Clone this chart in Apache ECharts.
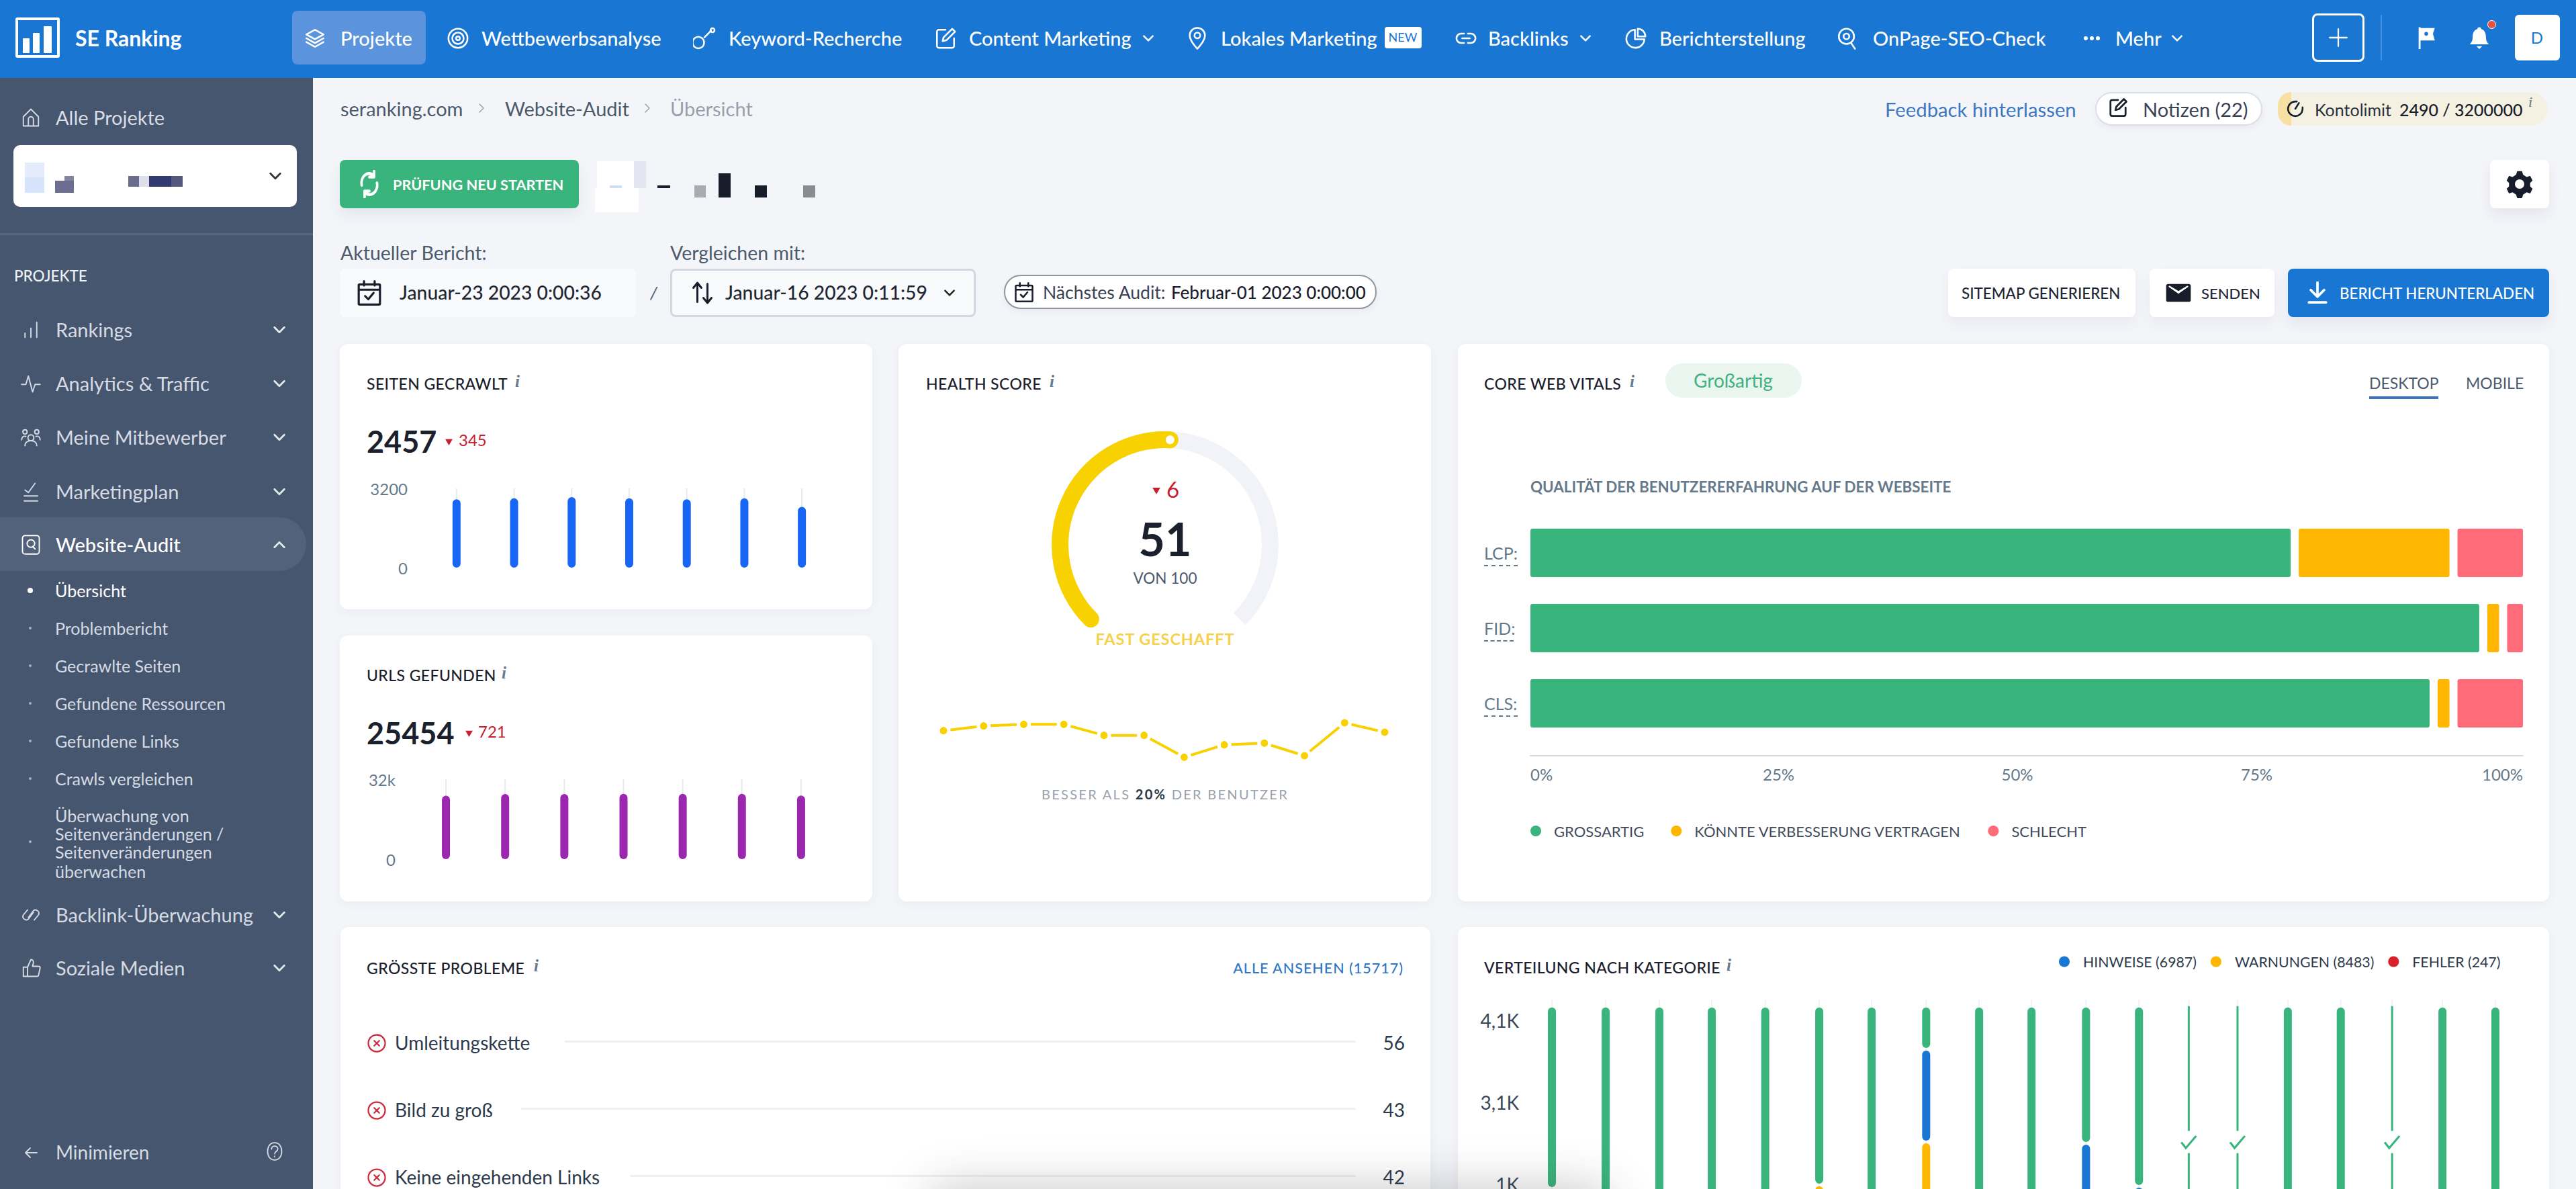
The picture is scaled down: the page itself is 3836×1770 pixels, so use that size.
<!DOCTYPE html>
<html lang="de">
<head>
<meta charset="utf-8">
<title>SE Ranking Website-Audit</title>
<script src="https://cdn.jsdelivr.net/npm/echarts@6/dist/echarts.min.js"></script>
<style>
  html, body { margin: 0; padding: 0; background: #f3f5f9; }
  #page { position: relative; width: 3836px; height: 1770px; overflow: hidden; background: #f3f5f9; font-family: Lato, sans-serif; }
  #page > div, #page > svg { position: absolute; white-space: nowrap; }
  #chart { position: absolute; left: 0; top: 0; width: 3836px; height: 1770px; z-index: 2; }
  .info { font-family: "Liberation Serif", serif; font-style: italic; font-weight: 700; color: #64798a; font-size: 25px; }
</style>
</head>
<body>
<div id="page"><div id="chart"></div></div>
<script>
// Werte
const weekLabels = ['1', '2', '3', '4', '5', '6', '7']
const pagesCrawled = [2760, 2802, 2850, 2802, 2760, 2802, 2457]
const urlsFound = [25400, 26100, 26100, 26175, 26175, 26175, 25454]
const healthScore = 51
const healthHistory = [52, 55, 56, 56, 49, 49, 35, 43, 44, 36, 57, 51]
const healthLabels = ['1', '2', '3', '4', '5', '6', '7', '8', '9', '10', '11', '12']

const cwvNames = ['LCP:', 'FID:', 'CLS:']
const cwvGood = [77, 96, 91]
const cwvMedium = [16, 2, 2]
const cwvBad = [7, 2, 7]
const cwvLegend = ['GROSSARTIG', 'KÖNNTE VERBESSERUNG VERTRAGEN', 'SCHLECHT']

// die Spalten stehen im Original nicht ganz gleichmäßig, daher Werteachse
const distSlots = [0.5, 1.525, 2.55, 3.55, 4.57, 5.6, 6.6, 7.64, 8.65, 9.65, 10.69, 11.7, 12.65, 13.58, 14.54, 15.55, 16.53, 17.49, 18.5]
const distPassed = [2223, 4270, 4270, 4270, 4270, 2182, 4270, 526, 4270, 4270, 1674, 2198, 0, 0, 4270, 4270, 0, 4270, 4270]
const distHints = [0, 0, 0, 0, 0, 0, 0, 1131, 0, 0, 2596, 2072, 0, 0, 0, 0, 0, 0, 0]
const distWarnings = [2047, 0, 0, 0, 0, 2088, 0, 2613, 0, 0, 0, 0, 0, 0, 0, 0, 0, 0, 0]
const distErrors = distSlots.map(() => 0)
const distThin = [null, null, null, null, null, null, null, null, null, null, null, null, 4270, 4270, null, null, 4270, null, null]
const distChecks = [12, 13, 16]
const distTickValues = [4100, 3100, 2100]
const distTickLabels = ['4,1K', '3,1K', '1K']
const distLegend = ['HINWEISE (6987)', 'WARNUNGEN (8483)', 'FEHLER (247)']

const problems = ['Umleitungskette', 'Bild zu groß', 'Keine eingehenden Links']
const problemCounts = [56, 43, 42]

const page = document.getElementById('page')

function box(x, y, w, h, bg, r, css) {
  const d = document.createElement('div')
  d.style.cssText = `left:${x}px;top:${y}px;width:${w}px;height:${h}px;background:${bg};border-radius:${r || 0}px;box-sizing:border-box;${css || ''}`
  page.appendChild(d)
  return d
}
// y ist die vertikale Mitte des Textes
function text(x, y, s, size, color, css) {
  const d = document.createElement('div')
  d.style.cssText = `left:${x}px;top:${y}px;transform:translateY(-50%);font-size:${size}px;color:${color};line-height:1.2;${css || ''}`
  d.innerHTML = s
  page.appendChild(d)
  return d
}
function textRight(right, y, s, size, color, css) {
  return text(0, y, s, size, color, `left:auto;right:${3836 - right}px;${css || ''}`)
}
function textMid(cx, y, s, size, color, css) {
  const d = text(cx, y, s, size, color, css)
  d.style.transform = 'translate(-50%,-50%)'
  return d
}
function icon(cx, cy, size, d, color, opts) {
  const o = opts || {}
  const s = document.createElementNS('http://www.w3.org/2000/svg', 'svg')
  s.setAttribute('viewBox', '0 0 24 24')
  s.setAttribute('width', o.w || size)
  s.setAttribute('height', size)
  s.setAttribute('preserveAspectRatio', 'none')
  s.style.left = (cx - (o.w || size) / 2) + 'px'
  s.style.top = (cy - size / 2) + 'px'
  const p = document.createElementNS('http://www.w3.org/2000/svg', 'path')
  p.setAttribute('d', d)
  p.setAttribute('fill', o.fill ? color : 'none')
  p.setAttribute('stroke', o.fill ? 'none' : color)
  p.setAttribute('stroke-width', o.sw || 1.8)
  p.setAttribute('stroke-linecap', 'round')
  p.setAttribute('stroke-linejoin', 'round')
  s.appendChild(p)
  page.appendChild(s)
}

const ICONS = {
  layers: 'M12 3l9 5-9 5-9-5zM3 12l9 5 9-5M3 16l9 5 9-5',
  target: 'M12 2a10 10 0 1 0 0 20 10 10 0 0 0 0-20zM12 6a6 6 0 1 0 0 12 6 6 0 0 0 0-12zM12 10a2 2 0 1 0 0 4 2 2 0 0 0 0-4z',
  key: 'M8 22a6 6 0 1 1 0-11 6 6 0 0 1 0 11zM12 11l7-7M19 2a2 2 0 1 0 3 3 2 2 0 0 0-3-3z',
  edit: 'M12 3H5a2 2 0 0 0-2 2v15a2 2 0 0 0 2 2h14a2 2 0 0 0 2-2v-8M9 15l1-4 9-9 3 3-9 9z',
  pin: 'M12 23s8-8 8-14a8 8 0 0 0-16 0c0 6 8 14 8 14zM12 6a3 3 0 1 0 0 6 3 3 0 0 0 0-6z',
  link: 'M10 7H7a5 5 0 0 0 0 10h3M14 7h3a5 5 0 0 1 0 10h-3M8 12h8',
  pie: 'M11 3a9.5 9.5 0 1 0 10 10H11zM14 2v8h8a8 8 0 0 0-8-8z',
  search: 'M11 2a8 8 0 1 0 0 16 8 8 0 0 0 0-16zM11 7a3 3 0 1 0 0 6 3 3 0 0 0 0-6zM16 17l4 6',
  down: 'M4 8l8 8 8-8',
  up: 'M4 16l8-8 8 8',
  right: 'M8 4l8 8-8 8',
  plus: 'M12 3v18M3 12h18',
  flag: 'M4 1h2v23H4zM6 2h15l-2 6 2 7H6zM12 6a2 2 0 1 0 0 4 2 2 0 0 0 0-4z',
  bell: 'M12 1a2 2 0 0 1 2 2c4 1 5 5 5 9 0 3 1 5 3 7H2c2-2 3-4 3-7 0-4 1-8 5-9a2 2 0 0 1 2-2zM9 21h6l-3 3z',
  home: 'M3 11l9-9 9 9v11H3zM9 22v-8a3 3 0 0 1 6 0v8',
  bars: 'M5 21v-5M12 21V10M19 21V3',
  pulse: 'M1 13h5l3-10 5 19 3-9h6',
  people: 'M12 9a3.5 3.5 0 1 0 0 7 3.5 3.5 0 0 0 0-7zM5 22c0-4 3-6 7-6s7 2 7 6M5 3a2.5 2.5 0 1 0 0 5 2.5 2.5 0 0 0 0-5zM19 3a2.5 2.5 0 1 0 0 5 2.5 2.5 0 0 0 0-5zM1 15c0-3 2-5 5-4M23 15c0-3-2-5-5-4',
  plan: 'M4 23h16M4 17h16M5 10l4 3 8-11',
  audit: 'M5 1h14a3 3 0 0 1 3 3v16a3 3 0 0 1-3 3H5a3 3 0 0 1-3-3V4a3 3 0 0 1 3-3zM12 6a4.5 4.5 0 1 0 0 9 4.5 4.5 0 0 0 0-9zM14 14l3 3',
  chain: 'M9 15l6-8a4 4 0 0 1 6 5l-5 6M15 9l-6 8a4 4 0 0 1-6-5l5-6',
  thumb: 'M3 11h5v11H3zM8 11l4-9c3 0 3 2 3 4l-1 4h7a2 2 0 0 1 2 2l-2 9a2 2 0 0 1-2 1H8',
  back: 'M21 12H4M11 5l-7 7 7 7',
  help: 'M12 1C6 1 3 6 3 12s3 11 9 11 9-5 9-11S18 1 12 1zM8 9c0-5 8-5 8 0 0 3-4 3-4 6M12 18v1',
  refresh: 'M4 13A8 8 0 0 1 17 5M17 1v5h-5M20 11a8 8 0 0 1-13 8M7 23v-5h5',
  calendar: 'M3 4h18a1 1 0 0 1 1 1v17a1 1 0 0 1-1 1H3a1 1 0 0 1-1-1V5a1 1 0 0 1 1-1zM2 9h20M7 1v4M17 1v4M8 15l3 3 5-6',
  swap: 'M7 21V3M3 7l4-5 4 5M17 3v19M13 17l4 5 4-5',
  gear: 'M10 1h4l1 3 3 2 3-1 2 4-2 2v3l2 2-2 4-3-1-3 2-1 3h-4l-1-3-3-2-3 1-2-4 2-2v-3L1 9l2-4 3 1 3-2zM12 8a4 4 0 1 0 0 8 4 4 0 0 0 0-8z',
  mail: 'M3 2h18a2 2 0 0 1 2 2v16a2 2 0 0 1-2 2H3a2 2 0 0 1-2-2V4a2 2 0 0 1 2-2zM3 5l9 8 9-8-1-1-8 6-8-6z',
  download: 'M12 1v14M5 9l7 7 7-7M3 22h18',
  gauge: 'M12 2a10 10 0 1 0 10 10M12 12l5-8M12 2h2M22 12v-2',
  xcircle: 'M12 2a10 10 0 1 0 0 20 10 10 0 0 0 0-20zM9 9l6 6M15 9l-6 6',
}

// Kopfzeile
box(0, 0, 3836, 116, '#1976d2')
box(23, 26, 66, 60, 'transparent', 3, 'border:4px solid #fff')
box(34, 57, 10, 22, '#fff', 1); box(49, 49, 10, 30, '#fff', 1); box(65, 39, 12, 40, '#fff', 1)
text(112, 57, 'SE Ranking', 32, '#fff', 'font-weight:700')
box(435, 16, 199, 80, '#5b93dc', 8)
const navItems = [
  [507, 469, 'Projekte', 'layers'], [717, 682, 'Wettbewerbsanalyse', 'target'], [1085, 1049, 'Keyword-Recherche', 'key'],
  [1443, 1408, 'Content Marketing', 'edit'], [1818, 1783, 'Lokales Marketing', 'pin'], [2216, 2183, 'Backlinks', 'link'],
  [2471, 2436, 'Berichterstellung', 'pie'], [2789, 2751, 'OnPage-SEO-Check', 'search'],
]
navItems.forEach(n => {
  text(n[0], 57, n[2], 29, '#fff', 'font-weight:500')
  icon(n[1], 57, 34, ICONS[n[3]], '#fff')
})
icon(1710, 57, 20, ICONS.down, '#fff', { sw: 3 })
icon(2361, 57, 20, ICONS.down, '#fff', { sw: 3 })
icon(3242, 57, 20, ICONS.down, '#fff', { sw: 3 })
box(2062, 40, 55, 32, '#fff', 4)
textMid(2089, 56, 'NEW', 18, '#1976d2')
text(3150, 57, 'Mehr', 29, '#fff', 'font-weight:500')
box(3103, 54, 6, 6, '#fff', 3); box(3112, 54, 6, 6, '#fff', 3); box(3121, 54, 6, 6, '#fff', 3)
box(3443, 20, 78, 72, 'transparent', 8, 'border:3px solid #fff')
icon(3482, 56, 34, ICONS.plus, '#fff', { sw: 1.6 })
box(3545, 22, 2, 68, '#4a92de')
icon(3613, 56, 34, ICONS.flag, '#fff', { fill: true })
icon(3692, 56, 34, ICONS.bell, '#fff', { fill: true })
box(3704, 30, 13, 13, '#e8503f', 7, 'border:1px solid #fff')
box(3745, 22, 67, 68, '#fff', 6)
textMid(3778, 56, 'D', 24, '#1976d2')

// Seitenleiste
box(0, 116, 466, 1654, '#47566f')
icon(46, 175, 30, ICONS.home, '#d6dbe4', { sw: 1.5 })
text(83, 175, 'Alle Projekte', 29, '#d8dde6')
box(20, 216, 422, 92, '#fff', 10)
box(37, 242, 29, 22, '#e4ebfb'); box(37, 264, 29, 23, '#d7e3fa')
box(82, 269, 28, 18, '#6c6e91'); box(96, 262, 14, 7, '#83859f')
box(191, 262, 16, 16, '#6a6c8c'); box(207, 262, 15, 16, '#dedfe8'); box(222, 262, 33, 16, '#34396f'); box(255, 262, 17, 16, '#54587c')
icon(410, 262, 22, ICONS.down, '#333', { sw: 3 })
box(0, 347, 466, 3, '#5a6981')
text(21, 410, 'PROJEKTE', 22.5, '#eef1f5', 'font-weight:500')
box(0, 770, 456, 80, '#52627b', 0, 'border-radius:0 40px 40px 0')
const sideItems = [
  [491, 'Rankings', 'bars'], [571, 'Analytics &amp; Traffic', 'pulse'], [651, 'Meine Mitbewerber', 'people'],
  [732, 'Marketingplan', 'plan'], [811, 'Website-Audit', 'audit'], [1362, 'Backlink-Überwachung', 'chain'], [1441, 'Soziale Medien', 'thumb'],
]
sideItems.forEach(s => {
  const c = s[1] === 'Website-Audit' ? '#fff' : '#d6dbe4'
  text(83, s[0], s[1], 29, c, s[1] === 'Website-Audit' ? 'font-weight:500' : '')
  icon(46, s[0], 30, ICONS[s[2]], c, { sw: 1.5 })
  icon(416, s[0], 22, s[1] === 'Website-Audit' ? ICONS.up : ICONS.down, '#e5e8ee', { sw: 3 })
})
const subItems = [[879, 'Übersicht'], [935, 'Problembericht'], [991, 'Gecrawlte Seiten'], [1047, 'Gefundene Ressourcen'], [1103, 'Gefundene Links'], [1159, 'Crawls vergleichen']]
subItems.forEach((s, i) => {
  text(82, s[0], s[1], 25, i === 0 ? '#fff' : '#d6dbe4')
  const r = i === 0 ? 4 : 2
  box(45 - r, s[0] - r, r * 2, r * 2, i === 0 ? '#fff' : '#aab3c2', r)
})
;[[1214, 'Überwachung von'], [1241, 'Seitenveränderungen /'], [1268, 'Seitenveränderungen'], [1297, 'überwachen']].forEach(s => text(82, s[0], s[1], 25, '#d6dbe4'))
box(43, 1251, 4, 4, '#aab3c2', 2)
icon(46, 1716, 24, ICONS.back, '#d6dbe4', { sw: 1.8 })
text(83, 1716, 'Minimieren', 28, '#d6dbe4')
icon(409, 1714, 28, ICONS.help, '#d6dbe4', { sw: 1.5 })

// Brotkrumen und Werkzeugleiste
text(507, 162, 'seranking.com', 29, '#4a5a6c')
icon(717, 161, 18, ICONS.right, '#9aa3ad', { sw: 2 })
text(752, 162, 'Website-Audit', 29, '#4a5a6c')
icon(964, 161, 18, ICONS.right, '#9aa3ad', { sw: 2 })
text(998, 162, 'Übersicht', 29, '#97a1ac')
text(2807, 163, 'Feedback hinterlassen', 29.3, '#3d78bf')
box(3120, 137, 249, 50, '#fff', 25, 'border:2px solid #dcdee8;box-shadow:0 4px 10px rgba(60,70,100,.06)')
icon(3154, 160, 30, ICONS.edit, '#1a202c', { sw: 2.2 })
text(3191, 163, 'Notizen (22)', 29, '#3a4254')
box(3392, 137, 402, 50, '#f5f1e2', 25, 'overflow:hidden')
box(3392, 137, 20, 50, '#f8e0a4', 0, 'border-radius:25px 0 0 25px')
icon(3418, 162, 26, ICONS.gauge, '#1a202c', { sw: 2.4 })
text(3447, 163, 'Kontolimit', 25, '#2a3240')
text(3573, 163, '2490 / 3200000', 25, '#1a202c', 'font-weight:500')
text(3765, 152, 'i', 22, '#64798a', 'font-style:italic;font-family:Liberation Serif')

box(506, 238, 356, 72, '#3ab47d', 8, 'box-shadow:0 10px 20px rgba(60,70,100,.08)')
icon(550, 274, 42, ICONS.refresh, '#fff', { sw: 2.6, w: 34 })
text(585, 275, 'PRÜFUNG NEU STARTEN', 21.7, '#fff', 'font-weight:700')
// verpixelter Bereich
box(889, 240, 55, 41, '#fff'); box(944, 240, 18, 40, '#e3e5f0'); box(886, 280, 65, 36, '#fff')
box(908, 276, 18, 4, '#cfdff5'); box(979, 276, 19, 4, '#171d2b'); box(1034, 276, 17, 18, '#a9abb2')
box(1070, 258, 18, 36, '#171d2b'); box(1124, 276, 18, 18, '#171d2b'); box(1196, 276, 18, 18, '#8a8c92')
box(3708, 238, 88, 72, '#fff', 8, 'box-shadow:0 10px 20px rgba(60,70,100,.08)')
icon(3752, 274, 42, ICONS.gear, '#171d2b', { fill: true, sw: 1 })

text(507, 376, 'Aktueller Bericht:', 28.5, '#4a5a6c')
text(998, 376, 'Vergleichen mit:', 28.5, '#4a5a6c')
box(506, 400, 441, 72, '#f9fafc', 8)
icon(550, 436, 38, ICONS.calendar, '#171d2b', { sw: 2 })
text(595, 436, 'Januar-23 2023 0:00:36', 28.3, '#1f2735', 'font-weight:500')
text(968, 436, '/', 26, '#4a5a6c', 'font-style:italic')
box(998, 400, 455, 72, '#f9fafc', 8, 'border:3px solid #d4d6e1')
icon(1046, 436, 36, ICONS.swap, '#171d2b', { sw: 2 })
text(1080, 436, 'Januar-16 2023 0:11:59', 28.3, '#1f2735', 'font-weight:500')
icon(1414, 436, 20, ICONS.down, '#222', { sw: 3 })
box(1495, 409, 555, 51, '#fff', 25, 'border:2px solid #8f96a0;box-shadow:0 4px 10px rgba(60,70,100,.06)')
icon(1525, 435, 30, ICONS.calendar, '#171d2b', { sw: 2 })
text(1553, 436, 'Nächstes Audit:', 26.5, '#3a4254')
text(1744, 436, 'Februar-01 2023 0:00:00', 26, '#1a202c', 'font-weight:500')
box(2901, 400, 279, 72, '#fff', 8, 'box-shadow:0 10px 20px rgba(60,70,100,.06)')
text(2921, 437, 'SITEMAP GENERIEREN', 22.4, '#1f2735', 'font-weight:500')
box(3201, 400, 186, 72, '#fff', 8, 'box-shadow:0 10px 20px rgba(60,70,100,.06)')
icon(3244, 436, 32, ICONS.mail, '#171d2b', { fill: true, w: 40 })
text(3278, 437, 'SENDEN', 22, '#1f2735', 'font-weight:500')
box(3407, 400, 389, 72, '#1976d2', 8, 'box-shadow:0 10px 20px rgba(60,70,100,.08)')
icon(3451, 436, 34, ICONS.download, '#fff', { sw: 2.6 })
text(3484, 437, 'BERICHT HERUNTERLADEN', 22.4, '#fff', 'font-weight:500')

// Karten
const cardShadow = 'box-shadow:0 4px 14px rgba(60,70,100,.05)'
box(506, 512, 793, 395, '#fff', 12, cardShadow)
box(506, 946, 793, 396, '#fff', 12, cardShadow)
box(1338, 512, 793, 830, '#fff', 12, cardShadow)
box(2171, 512, 1625, 830, '#fff', 12, cardShadow)
box(507, 1380, 1623, 420, '#fff', 12, cardShadow)
box(2171, 1380, 1625, 420, '#fff', 12, cardShadow)

function cardTitle(x, y, s, ix) {
  text(x, y, s, 23, '#1a202c', 'font-weight:500;letter-spacing:.4px')
  const i = text(ix, y - 4, 'i', 25, '#64798a')
  i.className = 'info'
}
const red = '#c9202f'
function downMark(x, y, size) {
  icon(x, y, size, 'M2 5h20L12 22z', red, { fill: true })
}
cardTitle(546, 572, 'SEITEN GECRAWLT', 767)
text(546, 657, '2457', 45, '#1a202c', 'font-weight:700')
downMark(668, 657, 13)
text(683, 655, '345', 24, red)
cardTitle(546, 1006, 'URLS GEFUNDEN', 747)
text(546, 1091, '25454', 45, '#1a202c', 'font-weight:700')
downMark(698, 1091, 13)
text(712, 1089, '721', 24, red)

cardTitle(1379, 572, 'HEALTH SCORE', 1563)
downMark(1722, 730, 14)
text(1737, 729, '6', 33, red)
textMid(1735, 951, 'FAST GESCHAFFT', 23.5, '#f6d24c', 'font-weight:700;letter-spacing:.9px')
textMid(1735, 1182, 'BESSER ALS <b style="color:#2b3642">20%</b> DER BENUTZER', 20, '#98a2ac', 'letter-spacing:2.3px')

cardTitle(2210, 572, 'CORE WEB VITALS', 2427)
box(2480, 541, 203, 51, '#ebf6f0', 26)
textMid(2581, 567, 'Großartig', 28, '#3fb27f')
text(3528, 571, 'DESKTOP', 23, '#4a5a6c')
box(3528, 590, 103, 4, '#3a73b8')
text(3672, 571, 'MOBILE', 23, '#4a5a6c')
text(2279, 725, 'QUALITÄT DER BENUTZERERFAHRUNG AUF DER WEBSEITE', 22.4, '#64798a', 'font-weight:700')
;[[841, 50], [953, 44], [1065, 50]].forEach(u => box(2210, u[0], u[1], 2, 'transparent', 0, 'border-top:2px dashed #64798a'))

cardTitle(546, 1442, 'GRÖSSTE PROBLEME', 795)
textRight(2090, 1442, 'ALLE ANSEHEN (15717)', 21.5, '#2e75c5', 'font-weight:500;letter-spacing:1px')
const problemRows = [1553, 1653, 1753]
const problemLineStart = [841, 776, 938]
problems.forEach((p, i) => {
  icon(561, problemRows[i], 30, ICONS.xcircle, '#cf2a3c', { sw: 1.8 })
  text(588, problemRows[i], p, 28, '#2c3a4b')
  box(problemLineStart[i], problemRows[i] - 4, 2019 - problemLineStart[i], 3, '#eef0f4', 2)
  textRight(2092, problemRows[i], String(problemCounts[i]), 28, '#2c3a4b')
})
cardTitle(2210, 1441, 'VERTEILUNG NACH KATEGORIE', 2571)

// weicher Schatten am unteren Rand
box(1390, 1778, 1000, 60, '#fff', 30, 'z-index:3;box-shadow:0 0 70px 10px rgba(40,40,50,.26)')

// ---- Diagramme ----
const axisLabelColor = '#64798a'
const font = 'Lato'
function miniAxes(gridIndex, labels) {
  return [
    { type: 'category', gridIndex, data: labels, axisLine: { show: false }, axisTick: { show: false }, axisLabel: { show: false } },
    { type: 'category', gridIndex, data: labels, show: false },
  ]
}
function miniY(gridIndex, max, fmt, margin, padTop) {
  return {
    type: 'value', gridIndex, min: 0, max, interval: max, splitLine: { show: false },
    axisLine: { show: false }, axisTick: { show: false },
    axisLabel: { color: axisLabelColor, fontSize: 24, fontFamily: font, margin, padding: [padTop, 0, 0, 0], formatter: fmt },
  }
}
function miniSeries(xBar, yIndex, values, max, color) {
  return [
    { type: 'bar', xAxisIndex: xBar + 1, yAxisIndex: yIndex, barWidth: 2, data: values.map(() => max), itemStyle: { color: '#e9eaed' }, silent: true, z: 1 },
    { type: 'bar', xAxisIndex: xBar, yAxisIndex: yIndex, barWidth: 12, data: values, itemStyle: { color, borderRadius: 6 }, z: 2 },
  ]
}
function cwvRender(params, api) {
  const s = api.coord([api.value(0), api.value(2)])
  const e = api.coord([api.value(1), api.value(2)])
  const x0 = s[0] + (api.value(0) > 0 ? 6 : 0)
  const x1 = e[0] - (api.value(1) < 100 ? 6 : 0)
  return { type: 'rect', shape: { x: x0, y: s[1] - 36, width: x1 - x0, height: 72, r: 3 }, style: { fill: api.visual('color') } }
}
const cwvGoodSpans = cwvGood.map((v, i) => [0, v, i])
const cwvMediumSpans = cwvMedium.map((v, i) => [cwvGood[i], cwvGood[i] + v, i])
const cwvBadSpans = cwvBad.map((v, i) => [cwvGood[i] + cwvMedium[i], cwvGood[i] + cwvMedium[i] + v, i])
function cwvSeries(name, data, color) {
  return { type: 'custom', name, xAxisIndex: 5, yAxisIndex: 3, data, itemStyle: { color }, encode: { x: [0, 1], y: 2 }, renderItem: cwvRender }
}

// Segmente der Verteilung: [Spalte, von, bis], von unten nach oben gestapelt
function distRender(params, api) {
  const lo = api.coord([api.value(0), api.value(1)])
  const hi = api.coord([api.value(0), api.value(2)])
  return { type: 'rect', shape: { x: lo[0] - 6, y: hi[1] + 2, width: 12, height: lo[1] - hi[1] - 4, r: 6 }, style: { fill: api.visual('color') } }
}
const distLayers = [distErrors, distWarnings, distHints, distPassed]
function distSpans(layer) {
  return distSlots.map((slot, i) => {
    let from = 0
    for (let k = 0; k < layer; k++) from += distLayers[k][i]
    return [slot, from, from + distLayers[layer][i]]
  }).filter(d => d[2] > d[1])
}
function distSeries(name, layer, color) {
  return { type: 'custom', name, xAxisIndex: 6, yAxisIndex: 4, data: distSpans(layer), z: 3, itemStyle: { color }, encode: { x: 0, y: [1, 2] }, renderItem: distRender }
}
const slotPairs = values => values.map((v, i) => [distSlots[i], v])
function distXAxis() {
  return { type: 'value', gridIndex: 4, min: 0, max: 19, show: false, splitLine: { show: false } }
}
const chart = echarts.init(document.getElementById('chart'), null, { renderer: 'svg', width: 3836, height: 1770 })
const option = {
  backgroundColor: 'transparent',
  animation: false,
  textStyle: { fontFamily: font },
  grid: [
    { left: 637, top: 727, width: 600, height: 118, outerBoundsMode: 'none' },
    { left: 620, top: 1160, width: 617, height: 119, outerBoundsMode: 'none' },
    { left: 1405, top: 1069, width: 657, height: 70, outerBoundsMode: 'none' },
    { left: 2279, top: 767, width: 1478, height: 336, outerBoundsMode: 'none' },
    { left: 2272, top: 1488, width: 1483, height: 530.7, outerBoundsMode: 'none' },
  ],
  xAxis: [
    ...miniAxes(0, weekLabels),
    ...miniAxes(1, weekLabels),
    { type: 'category', gridIndex: 2, data: healthLabels, boundaryGap: false, show: false },
    {
      type: 'value', gridIndex: 3, min: 0, max: 100, interval: 25, offset: 22, splitLine: { show: false },
      axisLine: { show: true, lineStyle: { color: '#d8d8d8', width: 2 } }, axisTick: { show: false },
      axisLabel: {
        color: axisLabelColor, fontSize: 24, fontFamily: font, margin: 15, alignMinLabel: 'left', alignMaxLabel: 'right',
        formatter: v => `{p${v}|${v}%}`,
        rich: { p0: {}, p25: {}, p50: { padding: [0, 28, 0, 0] }, p75: { padding: [0, 54, 0, 0] }, p100: {} },
      },
    },
    distXAxis(), distXAxis(), distXAxis(),
  ],
  yAxis: [
    miniY(0, 3200, v => String(v), 30, 2),
    miniY(1, 32000, v => (v ? v / 1000 + 'k' : '0'), 31, 4),
    { type: 'value', gridIndex: 2, min: 30, max: 60, show: false },
    {
      type: 'category', gridIndex: 3, data: cwvNames, inverse: true, axisLine: { show: false }, axisTick: { show: false },
      axisLabel: { color: axisLabelColor, fontSize: 25, fontFamily: font, align: 'left', margin: 69 },
    },
    {
      type: 'value', gridIndex: 4, min: 0, max: 4350, splitLine: { show: false }, axisLine: { show: false }, axisTick: { show: false },
      axisLabel: {
        customValues: distTickValues, color: '#3a4656', fontSize: 28, fontFamily: font, margin: 10,
        formatter: v => distTickLabels[distTickValues.indexOf(v)],
      },
    },
  ],
  legend: [
    {
      data: cwvLegend, left: 2279, top: 1226, padding: 0, icon: 'circle', itemWidth: 16, itemHeight: 16, itemGap: 40,
      textStyle: { fontFamily: font, fontSize: 22, color: '#3f4b5a', padding: [0, 0, 0, 14] }, selectedMode: false,
    },
    {
      data: distLegend, left: 3066, top: 1421, padding: 0, icon: 'circle', itemWidth: 16, itemHeight: 16, itemGap: 21,
      textStyle: { fontFamily: font, fontSize: 21.3, color: '#2c3a4b', padding: [0, 0, 0, 15] }, selectedMode: false,
    },
  ],
  series: [
    ...miniSeries(0, 0, pagesCrawled, 3200, '#1766f5'),
    ...miniSeries(2, 1, urlsFound, 32000, '#9b27af'),
    {
      type: 'gauge', center: [1735, 811], radius: 169, startAngle: 225, endAngle: -45, min: 0, max: 100,
      axisLine: { roundCap: false, lineStyle: { width: 25, color: [[1, '#f2f3f8']] } },
      progress: { show: true, width: 25, roundCap: true, itemStyle: { color: '#f8d100' } },
      axisTick: { show: false }, splitLine: { show: false }, axisLabel: { show: false },
      pointer: { show: false }, anchor: { show: false },
      title: { offsetCenter: [0, 49], fontSize: 22.5, color: '#4a5a6c', fontFamily: font },
      detail: { offsetCenter: [0, -10], fontSize: 68, fontWeight: 700, color: '#1a202c', fontFamily: font, formatter: '{value}' },
      data: [{ value: healthScore, name: 'VON 100' }],
    },
    // weißer Punkt am Ende des Bogens
    {
      type: 'gauge', z: 6, center: [1735, 811], radius: 169, startAngle: 225, endAngle: -45, min: 0, max: 100,
      axisLine: { show: false }, progress: { show: false }, axisTick: { show: false }, splitLine: { show: false }, axisLabel: { show: false },
      pointer: { show: true, icon: 'circle', width: 13, length: 13, offsetCenter: [0, -150], itemStyle: { color: '#fff' } },
      anchor: { show: false }, title: { show: false }, detail: { show: false },
      data: [{ value: healthScore, name: 'Punkt' }],
    },
    {
      type: 'line', xAxisIndex: 4, yAxisIndex: 2, data: healthHistory, symbol: 'circle', symbolSize: 16, showSymbol: true,
      lineStyle: { color: '#f8d100', width: 4 }, itemStyle: { color: '#f8d100', borderColor: '#fff', borderWidth: 5 },
    },
    cwvSeries(cwvLegend[0], cwvGoodSpans, '#3ab47d'),
    cwvSeries(cwvLegend[1], cwvMediumSpans, '#ffb600'),
    cwvSeries(cwvLegend[2], cwvBadSpans, '#ff6b78'),
    { type: 'bar', xAxisIndex: 8, yAxisIndex: 4, barWidth: 2, data: slotPairs(distSlots.map(() => 4350)), itemStyle: { color: '#f1f2f4' }, silent: true, z: 1 },
    distSeries(distLegend[2], 0, '#d9202b'),
    distSeries(distLegend[1], 1, '#ffb600'),
    distSeries(distLegend[0], 2, '#1976d2'),
    distSeries('Bestanden', 3, '#3ab47d'),
    { type: 'bar', xAxisIndex: 7, yAxisIndex: 4, barWidth: 3, data: slotPairs(distThin), itemStyle: { color: '#3ab47d' }, z: 3 },
    {
      type: 'scatter', xAxisIndex: 7, yAxisIndex: 4, symbol: 'rect', symbolSize: [26, 33], z: 4, silent: true,
      itemStyle: { color: '#fff', opacity: 1 }, data: distChecks.map(c => [distSlots[c], 2612]),
    },
    {
      type: 'scatter', xAxisIndex: 7, yAxisIndex: 4, symbol: 'path://M2 12L8 21L22 2', symbolSize: [22, 18], z: 5, silent: true,
      itemStyle: { color: 'transparent', borderColor: '#3ab47d', borderWidth: 3, opacity: 1 }, data: distChecks.map(c => [distSlots[c], 2612]),
    },
  ],
}
chart.setOption(option)
</script>
</body>
</html>
